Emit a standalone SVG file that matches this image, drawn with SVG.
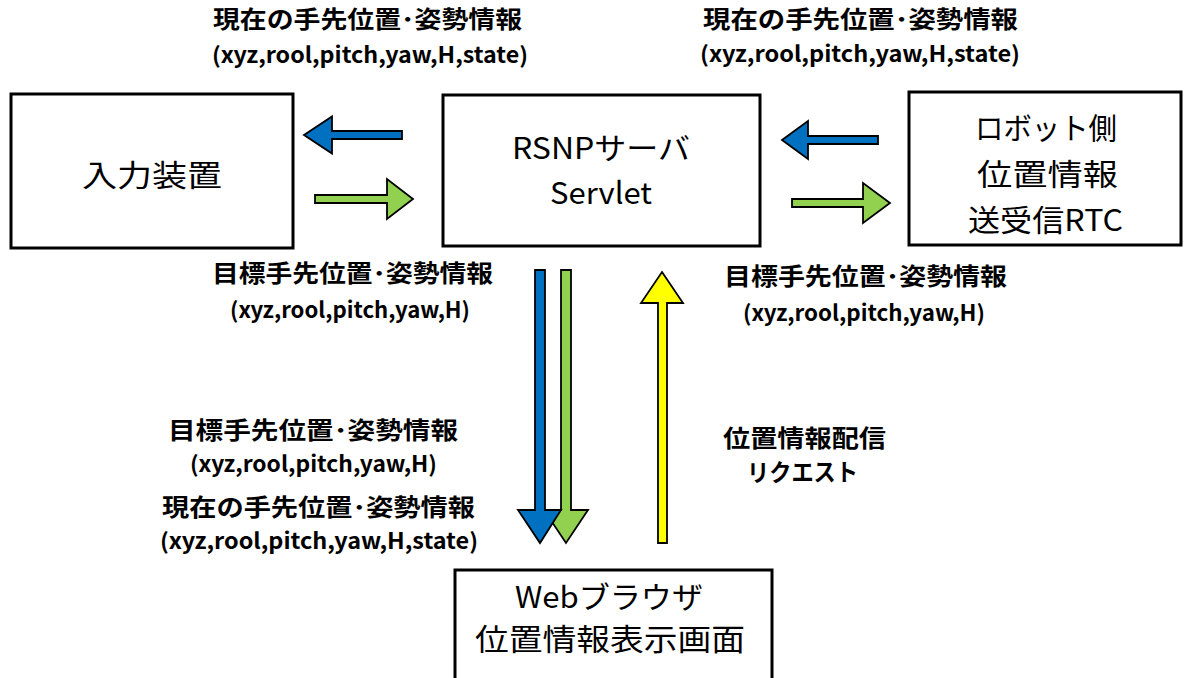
<svg xmlns="http://www.w3.org/2000/svg" width="1187" height="678" viewBox="0 0 1187 678">
<style>
.box{fill:#fff;stroke:#000;stroke-width:3}
.nt{font-family:"Noto Sans CJK JP","Noto Sans",sans-serif;font-size:30px;fill:#000}
.lb{font-family:"Noto Sans CJK JP","Noto Sans",sans-serif;font-weight:bold;font-size:24px;fill:#000}
.ll{font-family:"Noto Sans CJK JP","Noto Sans",sans-serif;font-weight:bold;font-size:22px;fill:#000}
.ar{stroke:#000;stroke-width:1.8;stroke-linejoin:miter}
.blue{fill:#0070C0}
.green{fill:#92D050}
.yellow{fill:#FFFF00}
</style>
<rect width="1187" height="678" fill="#fff"/>
<g id="node-input">
<rect class="box" x="11" y="94" width="282" height="154"/>
<text class="nt" x="82" y="186" font-size="34" textLength="140" lengthAdjust="spacingAndGlyphs">入力装置</text>
</g>
<g id="node-rsnp">
<rect class="box" x="443" y="95" width="317" height="151"/>
<text class="nt" x="512" y="159" font-size="29.5" textLength="178" lengthAdjust="spacingAndGlyphs">RSNPサーバ</text>
<text class="nt" x="550" y="204" font-size="29.5" textLength="102" lengthAdjust="spacingAndGlyphs">Servlet</text>
</g>
<g id="node-robot">
<rect class="box" x="909" y="92" width="272" height="153"/>
<text class="nt" x="975" y="139" font-size="30.5" textLength="142" lengthAdjust="spacingAndGlyphs">ロボット側</text>
<text class="nt" x="977" y="185" font-size="30.5" textLength="141" lengthAdjust="spacingAndGlyphs">位置情報</text>
<text class="nt" x="968" y="231" font-size="30.5" textLength="155" lengthAdjust="spacingAndGlyphs">送受信RTC</text>
</g>
<g id="node-web">
<rect class="box" x="455" y="570" width="317" height="120"/>
<text class="nt" x="515" y="608" font-size="28" textLength="188" lengthAdjust="spacingAndGlyphs">Webブラウザ</text>
<text class="nt" x="475" y="650" font-size="28" textLength="270" lengthAdjust="spacingAndGlyphs">位置情報表示画面</text>
</g>
<g id="connectors">
<polygon class="ar blue" points="304,135 332,116.5 332,131 402,131 402,139 332,139 332,153.5"/>
<polygon class="ar green" points="315,195 387,195 387,179 413,199 387,219 387,203 315,203"/>
<polygon class="ar blue" points="782,140 808,121 808,136 878,136 878,144 808,144 808,159"/>
<polygon class="ar green" points="792,199 863,199 863,183 890,203 863,223 863,207 792,207"/>
<polygon class="ar green" points="561,270 571,270 571,510 588,510 566,543 544,510 561,510"/>
<polygon class="ar blue" points="535,270 545,270 545,510 561,510 540,543 518,510 535,510"/>
<polygon class="ar yellow" points="662,272 683,303 667,303 667,543 658,543 658,303 641,303"/>
</g>
<g id="labels">
<text class="lb" x="213" y="28" textLength="309" lengthAdjust="spacingAndGlyphs">現在の手先位置･姿勢情報</text>
<text class="ll" x="212" y="63" textLength="316" lengthAdjust="spacingAndGlyphs">(xyz,rool,pitch,yaw,H,state)</text>
<text class="lb" x="703" y="28" textLength="315" lengthAdjust="spacingAndGlyphs">現在の手先位置･姿勢情報</text>
<text class="ll" x="700" y="62" textLength="320" lengthAdjust="spacingAndGlyphs">(xyz,rool,pitch,yaw,H,state)</text>
<text class="lb" x="212" y="282" textLength="281" lengthAdjust="spacingAndGlyphs">目標手先位置･姿勢情報</text>
<text class="ll" x="230" y="318" textLength="240" lengthAdjust="spacingAndGlyphs">(xyz,rool,pitch,yaw,H)</text>
<text class="lb" x="724" y="285" textLength="283" lengthAdjust="spacingAndGlyphs">目標手先位置･姿勢情報</text>
<text class="ll" x="743" y="321" textLength="242" lengthAdjust="spacingAndGlyphs">(xyz,rool,pitch,yaw,H)</text>
<text class="lb" x="168" y="439" textLength="290" lengthAdjust="spacingAndGlyphs">目標手先位置･姿勢情報</text>
<text class="ll" x="190" y="472" textLength="247" lengthAdjust="spacingAndGlyphs">(xyz,rool,pitch,yaw,H)</text>
<text class="lb" x="162" y="516" textLength="313" lengthAdjust="spacingAndGlyphs">現在の手先位置･姿勢情報</text>
<text class="ll" x="160" y="549" textLength="318" lengthAdjust="spacingAndGlyphs">(xyz,rool,pitch,yaw,H,state)</text>
<text class="lb" x="723" y="447" font-size="22" textLength="163" lengthAdjust="spacingAndGlyphs">位置情報配信</text>
<text class="lb" x="747" y="481" font-size="22" textLength="111" lengthAdjust="spacingAndGlyphs">リクエスト</text>
</g>
</svg>
